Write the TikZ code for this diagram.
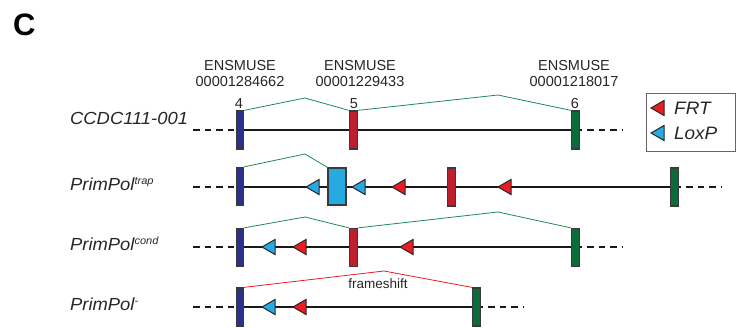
\documentclass[tikz,border=0pt]{standalone}
\usepackage{fontspec}
\setmainfont{Liberation Sans}
\newfontfamily\lblfont[FakeStretch=1.05]{Liberation Sans}
\definecolor{exblue}{HTML}{2B2F8E}
\definecolor{exred}{HTML}{BE1E2D}
\definecolor{exgreen}{HTML}{0B6B3A}
\definecolor{lxblue}{HTML}{27AAE1}
\definecolor{frtred}{HTML}{ED1C24}
\definecolor{splgreen}{HTML}{1E8A55}
\definecolor{edge}{HTML}{3A3A3A}
\tikzset{
  exon/.style={draw=edge, line width=1.3pt, rectangle, inner sep=0pt, minimum width=8pt, minimum height=38pt},
  mainline/.style={line width=2pt, black!90},
  dashline/.style={line width=2pt, black!90, dash pattern=on 6.5pt off 5pt},
  splice/.style={line width=0.8pt, splgreen, line join=miter},
  fsplice/.style={line width=0.8pt, frtred},
  frt/.pic={\draw[fill=frtred, draw=black!85, line width=1pt, line join=miter] (0,0) -- (13,-7.5) -- (13,7.5) -- cycle;},
  loxp/.pic={\draw[fill=lxblue, draw=black!85, line width=1pt, line join=miter] (0,0) -- (13,-7.5) -- (13,7.5) -- cycle;},
  rowlbl/.style={anchor=base west, inner sep=0pt, font=\lblfont\itshape\fontsize{17.5}{19}\selectfont, text=black!85},
  enslbl/.style={align=center, inner sep=0pt, font=\fontsize{14.5}{16}\selectfont, text=black!85},
  numlbl/.style={inner sep=0pt, font=\fontsize{14.5}{16}\selectfont, text=black!85},
}
\newcommand{\supx}[1]{\raisebox{5.5pt}{\fontsize{10.5}{10.5}\selectfont #1}}
\begin{document}
\begin{tikzpicture}[x=1pt,y=-1pt]
\useasboundingbox (0,0) rectangle (736,327);

% panel letter
\node[anchor=base west, inner sep=0pt, font=\bfseries\fontsize{31}{31}\selectfont] (title) at (13,35) {C};

% ENSMUSE labels and exon numbers
\node[enslbl] (ens4) at (240,74) {ENSMUSE\\00001284662};
\node[enslbl] (ens5) at (360,74) {ENSMUSE\\00001229433};
\node[enslbl] (ens6) at (574,74) {ENSMUSE\\00001218017};
\node[numlbl] (n4) at (239,104) {4};
\node[numlbl] (n5) at (354,104) {5};
\node[numlbl] (n6) at (575,104) {6};

% ---------- Row 1: CCDC111-001 ----------
\node[rowlbl] (l1) at (70,124) {CCDC111-001};
\coordinate (r1s) at (193,130);
\coordinate (r1t) at (623,130);
\draw[dashline] (r1s) -- (240,130);
\draw[mainline] (240,130) -- (575.5,130);
\draw[dashline] (575.5,130) -- (r1t);
\node[exon, minimum width=7pt, fill=exblue] (r1e4) at (240,130) {};
\node[exon, fill=exred] (r1e5) at (353.5,130) {};
\node[exon, fill=exgreen] (r1e6) at (575.5,130) {};
\coordinate (p1a) at (305,98);
\coordinate (p1b) at (498,95);
\draw[splice] (r1e4.north east) -- (p1a) -- (r1e5.north west);
\draw[splice] (r1e5.north east) -- (p1b) -- (r1e6.north west);

% legend
\node[draw=black!60, line width=0.8pt, rectangle, minimum width=89pt, minimum height=58pt, inner sep=0pt] (legend) at (690.5,122) {};
\pic at (651,108) {frt};
\pic at (651,133) {loxp};
\node[anchor=west, inner sep=0pt, font=\lblfont\itshape\fontsize{18}{19}\selectfont, text=black!85] (lfrt) at (674,108) {FRT};
\node[anchor=west, inner sep=0pt, font=\lblfont\itshape\fontsize{18}{19}\selectfont, text=black!85] (llox) at (674,133) {LoxP};

% ---------- Row 2: PrimPol trap ----------
\node[rowlbl] (l2) at (70,190) {PrimPol\supx{trap}};
\coordinate (r2s) at (193,187);
\coordinate (r2t) at (721,187);
\draw[dashline] (r2s) -- (240,187);
\draw[mainline] (240,187) -- (674.5,187);
\draw[dashline] (674.5,187) -- (r2t);
\pic at (306,187) {loxp};
\pic at (352,187) {loxp};
\pic at (392,187) {frt};
\pic at (498,187) {frt};
\node[exon, minimum width=7pt, fill=exblue] (r2e4) at (240,186.5) {};
\node[exon, minimum width=18pt, minimum height=37pt, fill=lxblue] (r2box) at (337,186.5) {};
\node[exon, fill=exred] (r2e5) at (451.5,187) {};
\node[exon, fill=exgreen] (r2e6) at (674.5,187) {};
\coordinate (p2a) at (305,154);
\draw[splice] (r2e4.north east) -- (p2a) -- (r2box.north west);

% ---------- Row 3: PrimPol cond ----------
\node[rowlbl] (l3) at (70,250) {PrimPol\supx{cond}};
\coordinate (r3s) at (193,247);
\coordinate (r3t) at (623,247);
\draw[dashline] (r3s) -- (240,247);
\draw[mainline] (240,247) -- (575.5,247);
\draw[dashline] (575.5,247) -- (r3t);
\pic at (262,247) {loxp};
\pic at (293,247) {frt};
\pic at (400,247) {frt};
\node[exon, minimum width=7pt, fill=exblue] (r3e4) at (240,247.5) {};
\node[exon, fill=exred] (r3e5) at (353.5,247.5) {};
\node[exon, fill=exgreen] (r3e6) at (575.5,247.5) {};
\coordinate (p3a) at (305,217);
\coordinate (p3b) at (498,212);
\draw[splice] (r3e4.north east) -- (p3a) -- (r3e5.north west);
\draw[splice] (r3e5.north east) -- (p3b) -- (r3e6.north west);

% ---------- Row 4: PrimPol - ----------
\node[rowlbl] (l4) at (70,310) {PrimPol\supx{-}};
\coordinate (r4s) at (193,307);
\coordinate (r4t) at (524,307);
\draw[dashline] (r4s) -- (240,307);
\draw[mainline] (240,307) -- (476.5,307);
\draw[dashline] (476.5,307) -- (r4t);
\pic at (262,307) {loxp};
\pic at (293,307) {frt};
\node[exon, minimum width=7pt, fill=exblue] (r4e4) at (240,307) {};
\node[exon, fill=exgreen] (r4e6) at (476.5,307) {};
\coordinate (p4a) at (384,271);
\draw[fsplice] (r4e4.north east) -- (p4a) -- (r4e6.north west);
\node[inner sep=0pt, font=\fontsize{13.5}{14}\selectfont, text=black!85] (fs) at (378,284) {frameshift};
\end{tikzpicture}
\end{document}
